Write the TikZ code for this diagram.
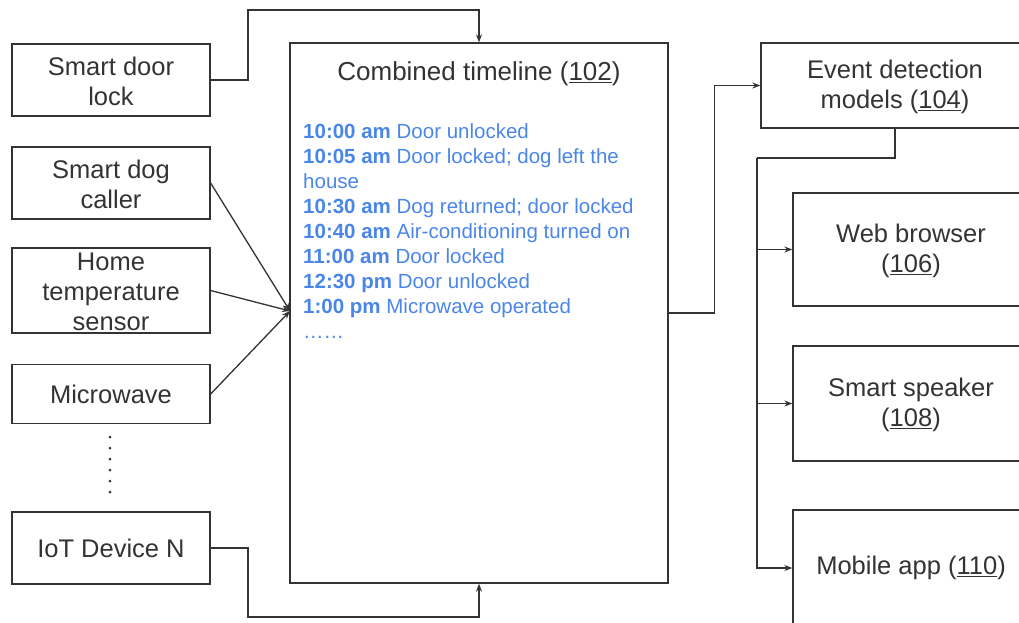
\documentclass[tikz,border=0pt]{standalone}
\usepackage{fontspec}
\setmainfont{Liberation Sans}
\definecolor{linegray}{RGB}{51,51,51}
\definecolor{eventblue}{RGB}{74,134,232}
\usetikzlibrary{arrows.meta,positioning}

\begin{document}
\begin{tikzpicture}[x=1pt,y=-1pt,>={Stealth[length=8pt,width=6pt]},
    box/.style={draw=linegray,line width=1.3pt,inner sep=0pt,align=center,text=linegray,
      font=\fontsize{25.5}{30}\selectfont},
    link/.style={draw=linegray,line width=1.3pt}]
  \useasboundingbox (0,0) rectangle (1019,622);
  \clip (0,0) rectangle (1019,622);

  % devices on the left
  \node[box,minimum width=198pt,minimum height=72pt] (lock) at (111,80) {\strut Smart door\\lock};
  \node[box,minimum width=198pt,minimum height=72pt] (dogcaller) at (111,183) {\strut Smart dog\\caller};
  \node[box,minimum width=198pt,minimum height=85pt] (tempsensor) at (111,290.5) {\strut Home\\temperature\\sensor};
  \node[box,minimum width=198pt,minimum height=59pt] (microwave) at (111,394) {Microwave};
  \node[box,minimum width=198pt,minimum height=72pt] (iot) at (111,548) {IoT Device N};
  \foreach \y in {437,448,...,492}
    \fill[linegray] (110,\y) circle (1.5pt);

  % combined timeline
  \node[box,minimum width=378pt,minimum height=540pt] (timeline) at (479,313) {};
  \node[text=linegray,font=\fontsize{26}{30}\selectfont] (title) at (479,74) {Combined timeline (\underline{102})};
  \node[anchor=north west,align=left,inner sep=0pt,text=eventblue,font=\fontsize{20.5}{25}\selectfont] (events) at (303,123.5) {%
    \textbf{10:00 am} Door unlocked\\
    \textbf{10:05 am} Door locked; dog left the\\
    house\\
    \textbf{10:30 am} Dog returned; door locked\\
    \textbf{10:40 am} Air-conditioning turned on\\
    \textbf{11:00 am} Door locked\\
    \textbf{12:30 pm} Door unlocked\\
    \textbf{1:00 pm} Microwave operated\\
    ……};

  % models and outputs
  \node[box,minimum width=268pt,minimum height=85pt] (event) at (895,85.5) {\strut Event detection\\models (\underline{104})};
  \node[box,minimum width=236pt,minimum height=113pt] (web) at (911,249.5) {\strut Web browser\\(\underline{106})};
  \node[box,minimum width=236pt,minimum height=115pt] (speaker) at (911,403.5) {\strut Smart speaker\\(\underline{108})};
  \node[box,minimum width=236pt,minimum height=116pt] (mobile) at (911,568) {Mobile app (\underline{110})};

  \coordinate (lockup) at (248,10);
  \coordinate (iotdown) at (248,617);
  \coordinate (merge) at (290,311);
  \coordinate (trunk) at (757,158);

  \draw[link,->] (lock.east) -| (lockup) -| (timeline.north);
  \draw[link,->] (iot.east) -| (iotdown) -| (timeline.south);
  \draw[link,->] (dogcaller.east) -- (merge);
  \draw[link,->] (tempsensor.east) -- (merge);
  \draw[link,->] (microwave.east) -- (merge);
  \draw[link,->] (timeline.east) -| ([xshift=-46pt]event.west) -- (event.west);
  \draw[link] (event.south) |- (trunk);
  \draw[link,->] (trunk) |- (web.west);
  \draw[link,->] (trunk) |- (speaker.west);
  \draw[link,->] (trunk) |- (mobile.west);
\end{tikzpicture}
\end{document}
